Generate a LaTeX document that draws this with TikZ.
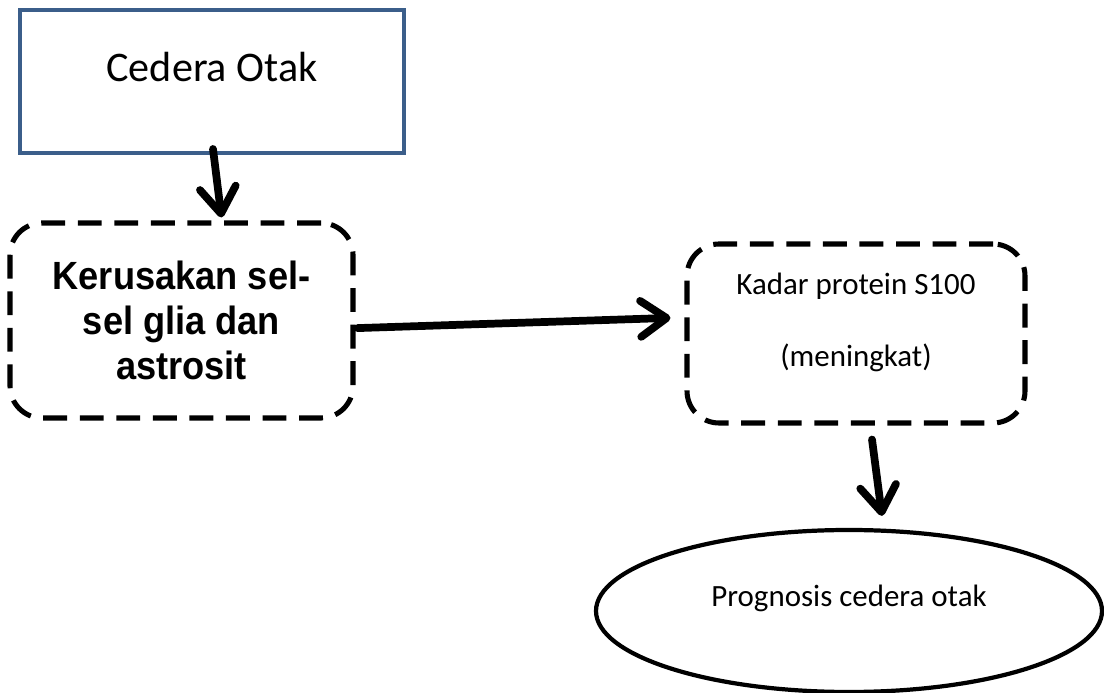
\documentclass[tikz,border=0pt]{standalone}
\usepackage{fontspec}
\setmainfont{Carlito}
\newfontfamily\headfont[FakeStretch=0.92]{Liberation Sans}
\usetikzlibrary{arrows.meta, positioning, shapes.geometric}

\definecolor{boxblue}{RGB}{59,94,138}

\begin{document}
\begin{tikzpicture}[
        injury/.style={rectangle, draw=boxblue, line width=2.8pt, minimum width=9.6cm, minimum height=3.575cm, font=\fontsize{30}{36}\selectfont, text height=0.6cm, text depth=0.6cm},
        dashbox/.style={rectangle, rounded corners=0.8cm, draw=black, line width=3.6pt, dash pattern=on 17pt off 9pt, align=center},
        damage/.style={dashbox, minimum width=8.575cm, minimum height=4.875cm, font=\headfont\bfseries\fontsize{28}{32}\selectfont},
        level/.style={dashbox, minimum width=8.45cm, minimum height=4.475cm, font=\fontsize{22}{51}\selectfont},
        outcome/.style={ellipse, draw=black, line width=3pt, minimum width=12.65cm, minimum height=4.05cm, font=\fontsize{22}{26}\selectfont, text height=0.5cm, text depth=0.7cm},
        flow/.style={line width=5.5pt, line cap=round, -{Straight Barb[length=0.65cm, width=0.9cm, round]}}
    ]
    \useasboundingbox (0, 0) rectangle (27.6, 17.325);

    % Cause
    \node[injury] (cedera) at (5.3, 15.2875) {Cedera Otak};

    % Cell damage
    \node[damage] (kerusakan) at (4.5375, 9.3125) {Kerusakan sel-\\sel glia dan\\astrosit};

    % Marker level
    \node[level] (kadar) at (21.4, 8.9875) {\rule{0pt}{0.55cm}Kadar protein S100\\(meningkat)\rule[-0.7cm]{0pt}{0pt}};

    % Outcome
    \node[outcome] (prognosis) at (21.225, 2.05) {Prognosis cedera otak};

    % --- Edges ---
    \draw[flow] ([shift={(0.025, 0.15)}]cedera.south) -- ([shift={(1.0, 0.075)}]kerusakan.north);
    \draw[flow] ([shift={(0.05, -0.19)}]kerusakan.east) -- ([shift={(-0.35, 0.39)}]kadar.west);
    \draw[flow] ([shift={(0.4, -0.35)}]kadar.south) -- ([shift={(0.825, 0.3)}]prognosis.north);

\end{tikzpicture}
\end{document}
